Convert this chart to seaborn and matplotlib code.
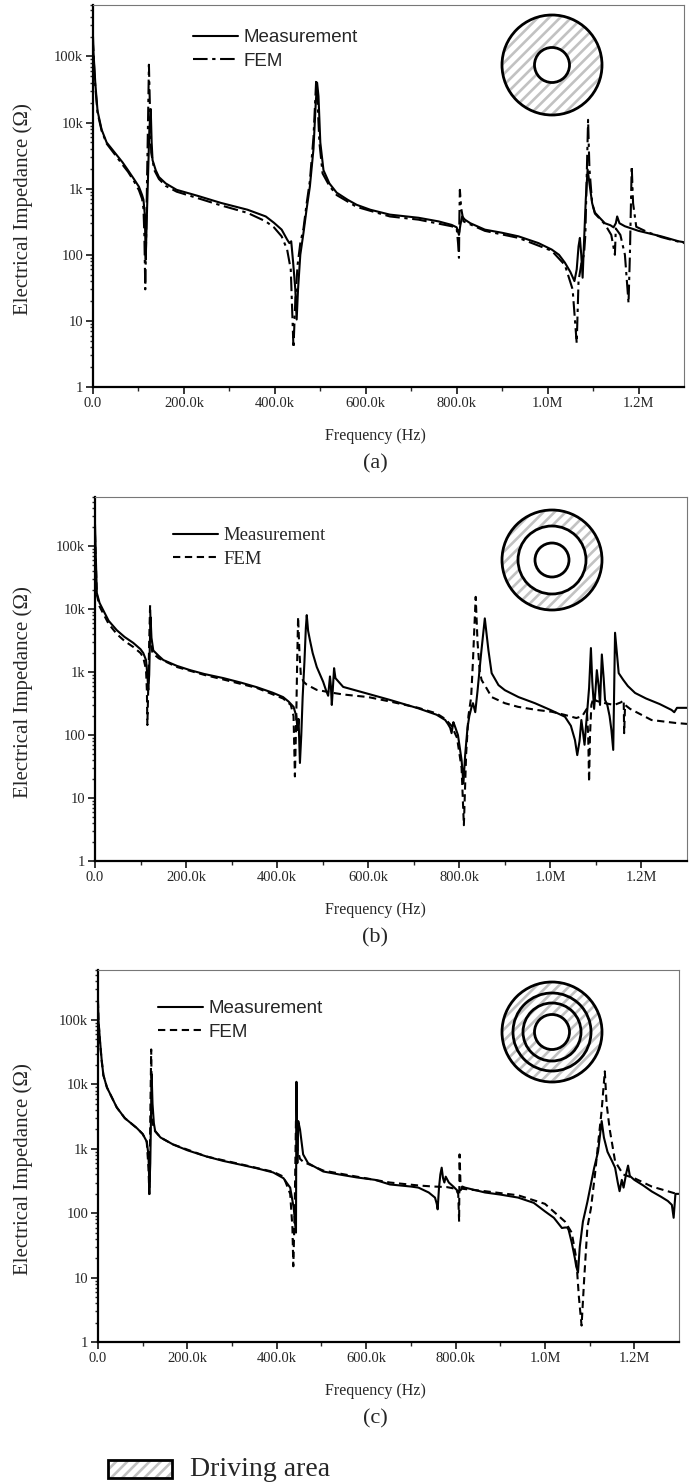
import numpy as np
import seaborn as sns
import matplotlib.pyplot as plt
from matplotlib.patches import Circle, Rectangle
from matplotlib.ticker import FixedLocator, LogLocator, NullFormatter, FuncFormatter

# ---- datos (frecuencia en kHz, impedancia en ohm) ----
a_meas_f = [0, 2, 5, 10, 19, 30, 48, 65, 77, 90, 101, 108, 111, 114, 116, 118, 121, 124, 127, 129,
            131, 138, 145, 160, 184, 230, 281, 340, 380, 398, 415, 427, 432, 436, 440, 445, 448, 451,
            456, 463, 470, 477, 485, 490, 493, 496, 500, 507, 520, 536, 560, 580, 610, 653, 716, 760,
            789, 800, 805, 808, 812, 818, 830, 862, 900, 936, 980, 1009, 1025, 1038, 1050, 1059, 1064,
            1068, 1071, 1074, 1077, 1080, 1084, 1088, 1092, 1098, 1104, 1115, 1126, 1138, 1145, 1150,
            1153, 1158, 1170, 1200, 1250, 1288, 1300]
a_meas_z = [150000, 90000, 40000, 15000, 7800, 5000, 3500, 2500, 1900, 1400, 1070, 800, 680, 400, 84,
            300, 1500, 8000, 16000, 5000, 2700, 1900, 1500, 1200, 960, 780, 610, 480, 380, 305, 240,
            170, 150, 160, 80, 30, 10.5, 30, 100, 215, 500, 1070, 4000, 20000, 40000, 25000, 5000,
            1900, 1200, 870, 680, 570, 480, 405, 363, 320, 283, 260, 200, 280, 380, 340, 300, 240, 215,
            190, 150, 120, 100, 76, 55, 40, 60, 134, 180, 100, 45, 150, 700, 1950, 1200, 600, 435, 360,
            300, 280, 260, 300, 380, 300, 270, 230, 190, 160, 155]
a_fem_f = [0, 2, 5, 10, 19, 30, 48, 65, 77, 90, 101, 108, 111, 113, 115, 117, 119, 121, 123, 125, 128,
           135, 145, 160, 184, 230, 281, 340, 380, 398, 415, 427, 435, 441, 445, 450, 456, 463, 470,
           477, 485, 491, 494, 498, 505, 520, 536, 580, 653, 716, 789, 800, 803, 805, 806, 807, 810,
           815, 862, 936, 1009, 1038, 1055, 1064, 1068, 1075, 1080, 1083, 1086, 1089, 1092, 1098, 1104,
           1126, 1140, 1148, 1150, 1160, 1170, 1178, 1181, 1185, 1188, 1195, 1220, 1250, 1300]
a_fem_z = [200000, 80000, 35000, 14000, 7500, 4800, 3300, 2300, 1800, 1300, 950, 700, 500, 200, 30,
           200, 1500, 10000, 75000, 20000, 3500, 1900, 1400, 1100, 900, 720, 560, 430, 320, 260, 190,
           120, 60, 3.9, 20, 70, 150, 250, 600, 1300, 6000, 45000, 20000, 5000, 1700, 1100, 800, 530,
           380, 340, 270, 250, 150, 90, 400, 960, 500, 320, 230, 180, 115, 70, 30, 4.6, 40, 80, 100,
           200, 1500, 11000, 2000, 600, 420, 290, 200, 100, 250, 200, 100, 18.6, 100, 2200, 600, 265,
           220, 185, 150]

b_meas_f = [0, 2, 4, 10, 18, 30, 48, 65, 84, 100, 106, 112, 115, 117, 119, 121, 122, 124, 128, 140,
            150, 180, 209, 240, 282, 320, 355, 390, 413, 425, 436, 442, 445, 447, 450, 453, 456, 460,
            463, 465, 468, 472, 478, 487, 501, 507, 512, 514, 516, 518, 520, 522, 525, 528, 535, 545,
            600, 648, 710, 750, 769, 775, 780, 783, 787, 790, 797, 805, 809, 813, 818, 822, 827, 830,
            835, 840, 848, 856, 864, 871, 886, 900, 930, 966, 1000, 1032, 1045, 1054, 1059, 1064, 1068,
            1071, 1075, 1080, 1085, 1089, 1092, 1096, 1099, 1102, 1106, 1109, 1113, 1117, 1120, 1125,
            1130, 1134, 1138, 1142, 1146, 1150, 1160, 1170, 1186, 1210, 1240, 1266, 1272, 1278, 1290,
            1300]
b_meas_z = [220000, 60000, 18000, 12500, 9600, 6500, 4600, 3600, 2900, 2300, 2000, 1550, 900, 520, 900,
            4000, 7400, 3500, 2200, 1800, 1550, 1250, 1070, 930, 800, 680, 575, 470, 400, 340, 280, 200,
            120, 180, 36, 100, 400, 1500, 5000, 8000, 4500, 3200, 2000, 1200, 700, 520, 420, 600, 850,
            600, 300, 500, 1150, 800, 700, 580, 450, 360, 265, 210, 173, 150, 130, 107, 160, 140, 100,
            40, 17, 50, 130, 200, 280, 320, 230, 500, 2000, 7100, 2200, 960, 620, 515, 400, 320, 250,
            195, 140, 83, 48, 80, 173, 120, 70, 200, 560, 2400, 700, 260, 500, 1070, 600, 300, 1900,
            800, 360, 300, 200, 120, 58, 4200, 2000, 960, 750, 600, 465, 380, 310, 250, 230, 270, 270,
            270]
b_fem_f = [0, 2, 4, 10, 18, 30, 48, 65, 84, 100, 106, 112, 114, 115, 117, 119, 121, 123, 126, 140,
           180, 240, 282, 355, 413, 430, 436, 439, 442, 444, 446, 449, 452, 458, 465, 487, 520, 545,
           600, 648, 710, 750, 769, 783, 795, 805, 810, 815, 820, 826, 830, 833, 836, 840, 845, 849,
           860, 871, 900, 929, 970, 1003, 1030, 1057, 1070, 1080, 1083, 1085, 1087, 1090, 1095, 1100,
           1120, 1140, 1155, 1161, 1162, 1164, 1175, 1222, 1276, 1300]
b_fem_z = [150000, 50000, 17000, 11000, 8500, 5800, 4000, 3100, 2500, 2000, 1700, 1100, 500, 144, 600,
           3000, 11500, 3000, 2000, 1650, 1200, 900, 760, 560, 380, 300, 200, 22, 200, 1500, 7500,
           2000, 900, 700, 630, 520, 470, 440, 400, 340, 270, 220, 180, 140, 90, 30, 3.7, 50, 200, 400,
           1500, 5000, 15600, 3000, 1000, 745, 550, 400, 320, 280, 250, 234, 210, 186, 200, 260, 100,
           18, 100, 300, 400, 350, 320, 300, 330, 360, 107, 300, 260, 173, 155, 150]

c_meas_f = [0, 1, 4.5, 8, 12, 20, 30, 42, 60, 87, 100, 109, 113, 115, 117, 119, 120, 122, 125, 128,
            140, 168, 200, 243, 280, 318, 355, 392, 415, 430, 438, 441, 443, 444, 446, 448, 452, 459,
            470, 504, 540, 579, 620, 653, 700, 717, 740, 754, 758, 760, 763, 766, 769, 772, 775, 778,
            785, 795, 806, 812, 815, 821, 866, 900, 940, 975, 1000, 1020, 1038, 1045, 1050, 1053, 1060,
            1067, 1070, 1074, 1078, 1085, 1095, 1110, 1119, 1127, 1132, 1140, 1150, 1157, 1163, 1167,
            1172, 1176, 1182, 1186, 1190, 1200, 1220, 1239, 1260, 1275, 1284, 1288, 1292, 1300]
c_meas_z = [180000, 100000, 48000, 25000, 14000, 9000, 6500, 4400, 3000, 2100, 1700, 1300, 800, 250,
            600, 5000, 14500, 5000, 2500, 1870, 1500, 1170, 950, 760, 650, 570, 500, 430, 350, 250,
            120, 70, 50, 11000, 600, 2700, 2000, 820, 600, 445, 400, 360, 330, 280, 260, 250, 210, 175,
            140, 115, 250, 400, 510, 350, 300, 370, 300, 260, 218, 230, 260, 250, 210, 195, 175, 145,
            107, 85, 59, 60, 60, 55, 35, 20, 15, 12, 30, 74, 150, 500, 910, 2700, 1500, 900, 650, 510,
            300, 220, 330, 250, 420, 550, 380, 330, 270, 218, 180, 155, 135, 85, 200, 200]
c_fem_f = [0, 1, 4.5, 8, 12, 20, 30, 42, 60, 87, 100, 109, 113, 115, 117, 119, 121, 125, 140, 168,
           243, 318, 392, 415, 430, 435, 437, 440, 443, 446, 452, 459, 504, 579, 653, 717, 750, 780,
           800, 806, 808, 809, 811, 815, 866, 940, 1000, 1045, 1060, 1070, 1076, 1082, 1088, 1095,
           1103, 1112, 1119, 1127, 1134, 1138, 1145, 1157, 1175, 1200, 1239, 1300]
c_fem_z = [200000, 100000, 45000, 24000, 14000, 9000, 6500, 4400, 3000, 2100, 1700, 1300, 500, 180,
           3000, 35000, 3000, 2000, 1500, 1170, 760, 580, 440, 370, 200, 60, 15, 100, 3000, 1000, 700,
           630, 460, 370, 300, 270, 260, 255, 240, 200, 74, 820, 300, 240, 220, 190, 140, 74, 50, 20,
           5, 1.8, 10, 60, 120, 400, 1200, 4000, 16000, 5000, 2000, 640, 400, 350, 260, 195]

x_ticks = [0, 200, 400, 600, 800, 1000, 1200]
x_tick_labels = ['0.0', '200.0k', '400.0k', '600.0k', '800.0k', '1.0M', '1.2M']
y_tick_labels = {1: '1', 10: '10', 100: '100', 1000: '1k', 10000: '10k', 100000: '100k'}
panel_tags = ['(a)', '(b)', '(c)']

sns.set_style('ticks')
plt.rcParams['font.family'] = ['Liberation Serif', 'DejaVu Serif']
plt.rcParams['hatch.linewidth'] = 1.9
HATCH_COLOR = '#c2c2c2'

fig = plt.figure(figsize=(6.89, 14.83), dpi=100)
W, H = 689.0, 1483.0


def px_rect(l, t, r, b):
    return [l / W, 1 - b / H, (r - l) / W, (b - t) / H]


paneles = [
    dict(rect=(93, 5, 684, 387), meas=(a_meas_f, a_meas_z), fem=(a_fem_f, a_fem_z),
         fem_ls=(0, (7, 2.2, 1.6, 2.2)), leg=(193, 29), leg_font='Liberation Sans', leg_size=13.5,
         rings=[1.0, 0.35], hatched=[True, False], icon=(552, 65)),
    dict(rect=(95, 497, 687, 861), meas=(b_meas_f, b_meas_z), fem=(b_fem_f, b_fem_z),
         fem_ls=(0, (3.5, 2.2)), leg=(173, 527), leg_font='Liberation Serif', leg_size=13.5,
         rings=[1.0, 0.68, 0.34], hatched=[True, False, False], icon=(552, 560)),
    dict(rect=(98, 970, 679, 1342), meas=(c_meas_f, c_meas_z), fem=(c_fem_f, c_fem_z),
         fem_ls=(0, (3.5, 2.2)), leg=(158, 1000), leg_font='Liberation Sans', leg_size=13.5,
         rings=[1.0, 0.78, 0.58, 0.35], hatched=[True, True, True, False], icon=(552, 1032)),
]

for i, p in enumerate(paneles):
    l, t, r, b = p['rect']
    ax = fig.add_axes(px_rect(l, t, r, b))
    sns.lineplot(x=p['meas'][0], y=p['meas'][1], ax=ax, sort=False, estimator=None,
                 color='black', lw=1.5, label='Measurement')
    sns.lineplot(x=p['fem'][0], y=p['fem'][1], ax=ax, sort=False, estimator=None,
                 color='black', lw=1.5, linestyle=p['fem_ls'], label='FEM')
    ax.set_yscale('log')
    ax.set_xlim(0, 1300)
    ax.set_ylim(1, 6e5)

    ax.xaxis.set_major_locator(FixedLocator(x_ticks))
    ax.set_xticklabels(x_tick_labels)
    ax.xaxis.set_minor_locator(FixedLocator(np.arange(100, 1300, 200)))
    ax.yaxis.set_major_locator(FixedLocator(list(y_tick_labels.keys())))
    ax.yaxis.set_major_formatter(FuncFormatter(lambda v, pos: y_tick_labels.get(int(round(v)), '')))
    ax.yaxis.set_minor_locator(LogLocator(base=10, subs=np.arange(2, 10)))
    ax.yaxis.set_minor_formatter(NullFormatter())
    ax.tick_params(which='major', direction='out', length=5, width=1.3, labelsize=10.5, pad=2)
    ax.tick_params(which='minor', direction='out', length=3, width=1.0)
    ax.tick_params(axis='y', which='minor', length=2.5)

    for s in ['left', 'bottom']:
        ax.spines[s].set_linewidth(1.6)
        ax.spines[s].set_color('black')
    for s in ['top', 'right']:
        ax.spines[s].set_visible(True)
        ax.spines[s].set_linewidth(0.8)
        ax.spines[s].set_color('#777777')

    ax.set_xlabel('')
    ax.set_ylabel('')
    fig.text(23 / W, 1 - ((t + b) / 2 + 13) / H, 'Electrical Impedance (\u03a9)', rotation=90,
             ha='center', va='center', fontsize=15)
    fig.text(375 / W, 1 - (b + 49) / H, 'Frequency (Hz)', ha='center', va='center', fontsize=11.5)
    fig.text(375 / W, 1 - (b + 77) / H, panel_tags[i], ha='center', va='center', fontsize=16)

    lx, ly = p['leg']
    ax.legend(loc='upper left', bbox_to_anchor=(lx / W, 1 - ly / H), bbox_transform=fig.transFigure,
              frameon=False, handlelength=2.4, handletextpad=0.3, labelspacing=0.35,
              borderaxespad=0, borderpad=0, prop={'family': p['leg_font'], 'size': p['leg_size']})

    # icono de electrodos (zona rayada = area de excitacion)
    cx, cy = p['icon']
    ia = fig.add_axes(px_rect(cx - 52, cy - 52, cx + 52, cy + 52))
    ia.set_xlim(-1.04, 1.04)
    ia.set_ylim(-1.04, 1.04)
    ia.set_aspect('equal')
    ia.axis('off')
    for rad, hat in zip(p['rings'], p['hatched']):
        if hat:
            ia.add_patch(Circle((0, 0), rad, facecolor='white', edgecolor=HATCH_COLOR,
                                hatch='///', lw=0))
        else:
            ia.add_patch(Circle((0, 0), rad, facecolor='white', edgecolor='none', lw=0))
    for rad in p['rings']:
        ia.add_patch(Circle((0, 0), rad, fill=False, edgecolor='black', lw=2.0))

# leyenda inferior: area de excitacion
la = fig.add_axes([0, 0, 1, 1], facecolor='none')
la.set_xlim(0, W)
la.set_ylim(H, 0)
la.axis('off')
la.add_patch(Rectangle((108, 1460), 64, 18, facecolor='white', edgecolor=HATCH_COLOR, hatch='///', lw=0))
la.add_patch(Rectangle((108, 1460), 64, 18, fill=False, edgecolor='black', lw=2.0))
la.text(190, 1469, 'Driving area', ha='left', va='center', fontsize=20)

fig.savefig('out.png', dpi=100)
